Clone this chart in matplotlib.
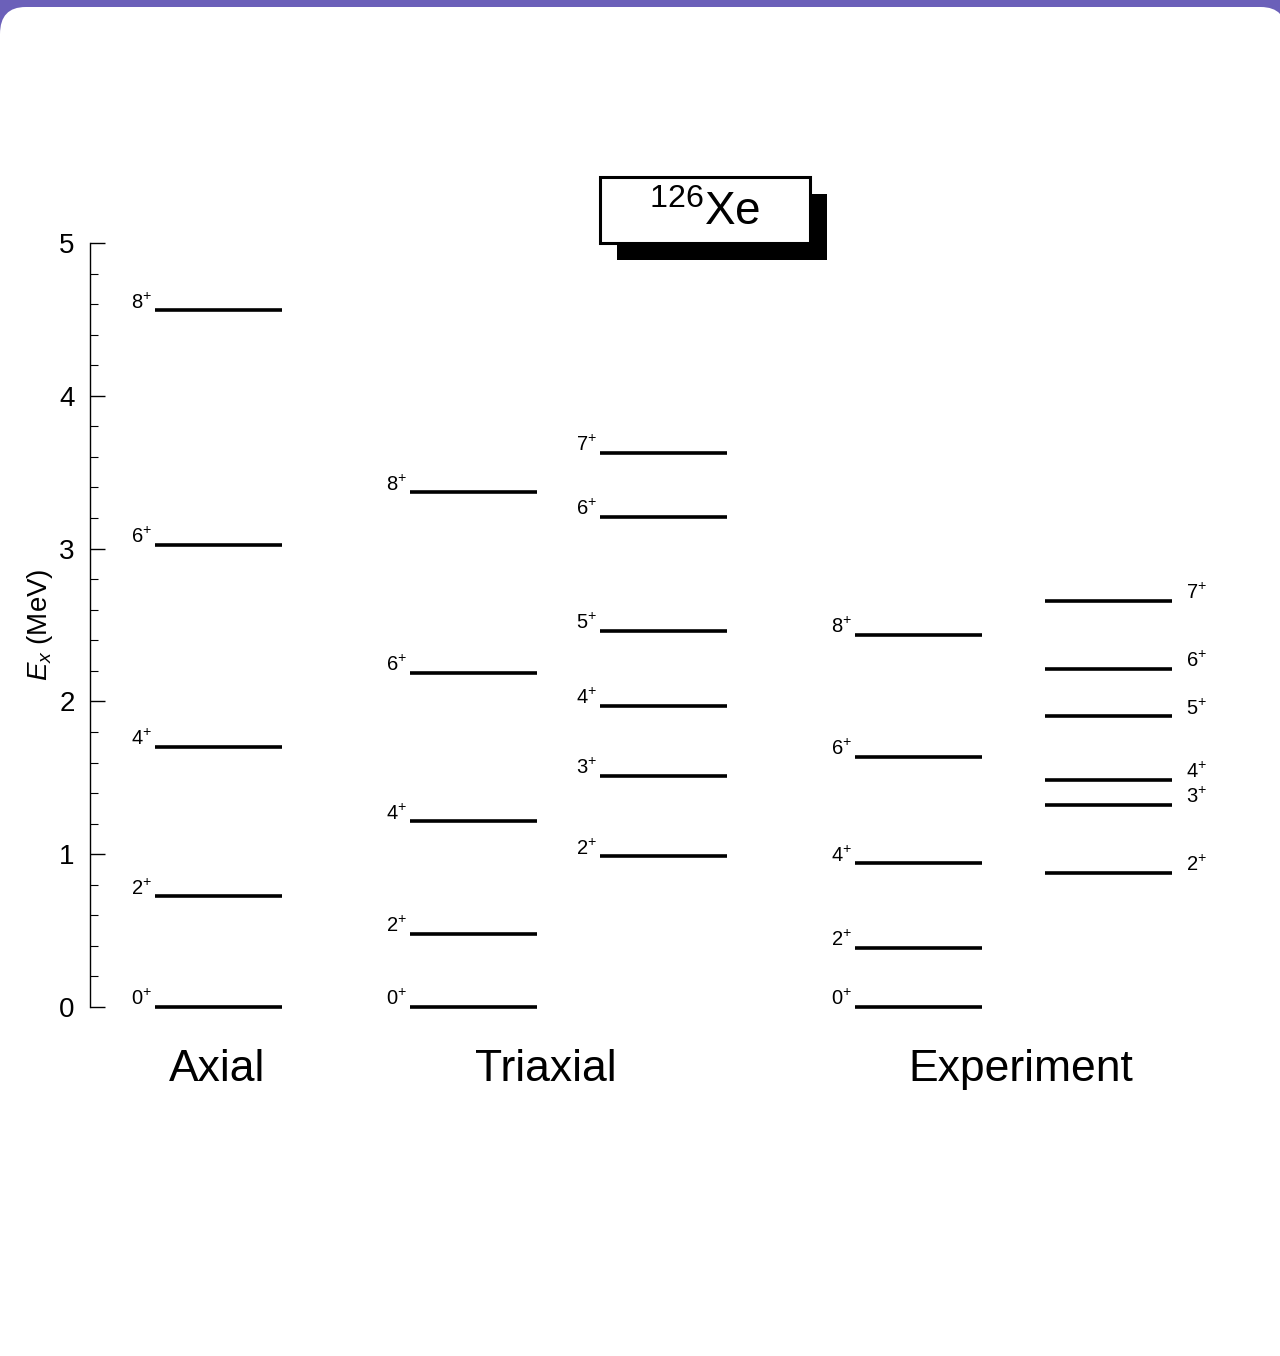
import matplotlib.pyplot as plt
from matplotlib.patches import FancyBboxPatch, Rectangle

plt.rcParams['font.family'] = ['Liberation Sans', 'DejaVu Sans']
plt.rcParams['mathtext.fontset'] = 'custom'
plt.rcParams['mathtext.rm'] = 'Liberation Sans'
plt.rcParams['mathtext.it'] = 'Liberation Sans:italic'

# level energies (MeV) and spins
axial_E = [0.0, 0.726, 1.702, 3.024, 4.561]
axial_J = ['0', '2', '4', '6', '8']

triax_gs_E = [0.0, 0.478, 1.217, 2.186, 3.370]
triax_gs_J = ['0', '2', '4', '6', '8']
triax_gam_E = [0.988, 1.512, 1.970, 2.461, 3.207, 3.626]
triax_gam_J = ['2', '3', '4', '5', '6', '7']

exp_gs_E = [0.0, 0.389, 0.942, 1.636, 2.435]
exp_gs_J = ['0', '2', '4', '6', '8']
exp_gam_E = [0.877, 1.322, 1.486, 1.904, 2.212, 2.657]
exp_gam_J = ['2', '3', '4', '5', '6', '7']

group_names = ['Axial', 'Triaxial', 'Experiment']

W, H = 1280, 1356
fig = plt.figure(figsize=(W / 100, H / 100), dpi=100)
fig.patch.set_facecolor('#6b60b9')

# white rounded panel
fig.patches.append(FancyBboxPatch((0.0, -0.02), 1.005, 1 - 7 / H + 0.02,
                                  boxstyle='round,pad=0,rounding_size=0.02',
                                  transform=fig.transFigure, facecolor='white',
                                  edgecolor='none', zorder=-5))

ax = fig.add_axes([90 / W, 1 - 1007 / H, 1170 / W, (1007 - 243) / H])
ax.set_zorder(2)
ax.set_facecolor('none')
ax.set_xlim(0, 11.7)
ax.set_ylim(0, 5)
for s in ['top', 'right', 'bottom']:
    ax.spines[s].set_visible(False)
ax.spines['left'].set_linewidth(1.0)
ax.set_xticks([])
ax.set_yticks([0, 1, 2, 3, 4, 5])
ax.set_yticks([i * 0.2 for i in range(26)], minor=True)
ax.tick_params(axis='y', which='major', direction='in', length=11, width=1.0,
               labelsize=20, pad=11)
ax.tick_params(axis='y', which='minor', direction='in', length=6, width=0.8)
ax.set_ylabel('$E_x$ (MeV)', fontsize=20, labelpad=3)

columns = [
    (0.65, axial_E, axial_J, 'left'),
    (3.20, triax_gs_E, triax_gs_J, 'left'),
    (5.10, triax_gam_E, triax_gam_J, 'left'),
    (7.65, exp_gs_E, exp_gs_J, 'left'),
    (9.55, exp_gam_E, exp_gam_J, 'right'),
]
width = 1.27
for x0, energies, spins, side in columns:
    ax.hlines(energies, x0, x0 + width, color='black', linewidth=2.6,
              clip_on=False)
    for e, j in zip(energies, spins):
        if side == 'left':
            ax.text(x0 - 0.03, e + 0.01, j + '$^{+}$', ha='right', va='baseline',
                    fontsize=14.5)
        else:
            ax.text(x0 + width + 0.14, e + 0.01, j + '$^{+}$', ha='left',
                    va='baseline', fontsize=14.5)

group_x = [1.27, 4.56, 9.31]
for gx, name in zip(group_x, group_names):
    ax.text(gx, -0.41, name, ha='center', va='center', fontsize=32, clip_on=False)

# nucleus label box with shadow
fig.patches.append(Rectangle((617 / W, 1 - 260 / H), 210 / W, 66 / H,
                             transform=fig.transFigure, facecolor='black',
                             edgecolor='none', zorder=3))
fig.patches.append(Rectangle((600 / W, 1 - 243 / H), 210 / W, 66 / H,
                             transform=fig.transFigure, facecolor='white',
                             edgecolor='black', linewidth=2.2, zorder=4))
fig.text(705 / W, 1 - 213 / H, '$^{126}$Xe', ha='center', va='center',
         fontsize=33, zorder=5)

fig.savefig('out.png', dpi=100)
